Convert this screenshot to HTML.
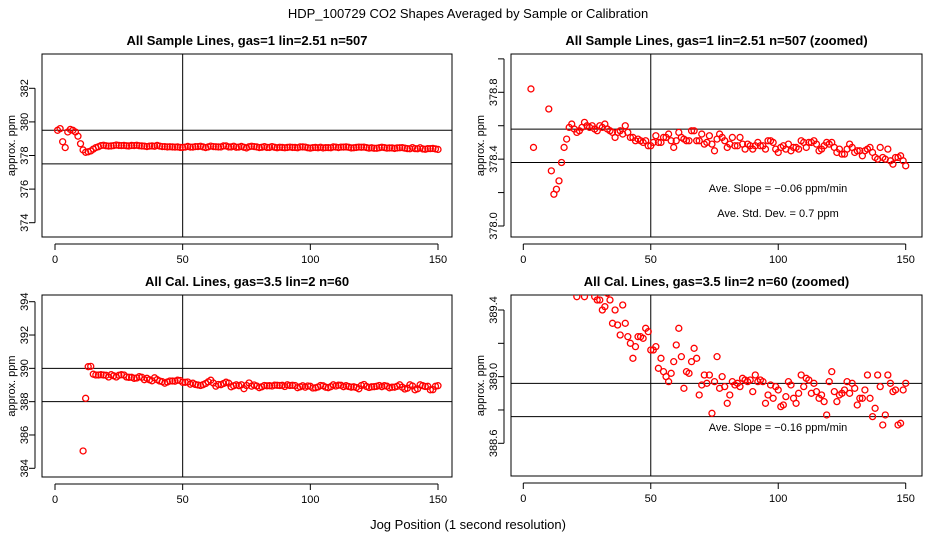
<!DOCTYPE html>
<html><head><meta charset="utf-8"><style>
html,body{margin:0;background:#fff;overflow:hidden;width:936px;height:540px;}
svg{display:block;font-family:"Liberation Sans",sans-serif;}
</style></head><body>
<svg id="chart" width="936" height="540" viewBox="0 0 936 540" xmlns="http://www.w3.org/2000/svg">
<rect width="936" height="540" fill="#fff"/>
<text x="468" y="18" font-size="13" text-anchor="middle">HDP_100729  CO2 Shapes Averaged by Sample or Calibration</text>
<text x="468" y="529" font-size="13" text-anchor="middle">Jog Position (1 second resolution)</text>
</svg>
<script>
const sampleX = [];
for (let i = 1; i <= 150; i++) sampleX.push(i);
const sampleValues = [379.5,379.6,378.82,378.47,379.4,379.55,379.5,379.4,379.15,378.70,378.33,378.19,378.22,378.27,378.38,378.47,378.52,378.59,378.61,378.58,378.56,378.57,378.59,378.62,378.60,378.59,378.60,378.58,378.57,378.60,378.59,378.61,378.58,378.57,378.56,378.53,378.56,378.57,378.55,378.60,378.56,378.53,378.53,378.51,378.52,378.51,378.50,378.51,378.48,378.48,378.50,378.54,378.50,378.50,378.53,378.53,378.55,378.51,378.47,378.51,378.56,378.53,378.52,378.51,378.51,378.57,378.57,378.51,378.51,378.55,378.49,378.50,378.54,378.49,378.45,378.52,378.55,378.53,378.51,378.47,378.49,378.53,378.48,378.48,378.53,378.49,378.46,378.49,378.48,378.46,378.48,378.50,378.48,378.48,378.46,378.51,378.51,378.50,378.46,378.44,378.47,378.48,378.46,378.49,378.45,378.47,378.47,378.46,378.51,378.50,378.47,378.50,378.50,378.51,378.49,378.45,378.46,378.48,378.50,378.49,378.50,378.47,378.44,378.46,378.43,378.43,378.46,378.49,378.47,378.44,378.45,378.45,378.42,378.45,378.46,378.47,378.44,378.41,378.40,378.47,378.41,378.40,378.46,378.39,378.37,378.41,378.41,378.42,378.39,378.36];
const calX = [];
for (let i = 11; i <= 150; i++) calX.push(i);
const calValues = [385.04,388.2,390.1,390.12,389.65,389.60,389.60,389.62,389.60,389.58,389.48,389.62,389.55,389.48,389.58,389.62,389.60,389.48,389.46,389.46,389.40,389.42,389.50,389.46,389.32,389.40,389.31,389.25,389.43,389.32,389.24,389.20,389.11,389.18,389.24,389.24,389.23,389.29,389.27,389.16,389.16,389.18,389.05,389.11,389.03,389.00,388.97,389.02,389.09,389.19,389.29,389.12,388.93,389.03,389.02,389.09,389.17,389.11,388.89,388.95,389.01,388.96,389.01,388.78,388.97,389.12,388.93,389.00,388.94,388.84,388.89,388.97,388.95,388.96,388.94,388.99,388.98,388.97,388.98,388.91,389.01,388.97,388.98,388.97,388.84,388.89,388.95,388.87,388.94,388.92,388.82,388.83,388.88,388.97,388.95,388.87,388.84,388.90,389.01,388.94,388.99,388.98,388.90,388.96,388.91,388.87,388.89,388.85,388.77,388.97,389.03,388.91,388.85,388.89,388.90,388.92,388.97,388.90,388.96,388.93,388.83,388.87,388.87,388.92,389.01,388.87,388.76,388.81,389.01,388.94,388.71,388.77,389.01,388.96,388.91,388.92,388.71,388.72,388.92,388.96];
const xTicks = [0,50,100,150];
const tlYTicks = [374,376,378,380,382];
const trYTicks = [378.0,378.2,378.4,378.6,378.8,379.0];
const trYLabels = [378.0,378.4,378.8];
const blYTicks = [384,386,388,390,392,394];
const brYTicks = [388.6,388.8,389.0,389.2,389.4];
const brYLabels = [388.6,389.0,389.4];

const NS = 'http://www.w3.org/2000/svg';
const svg = document.getElementById('chart');
function mk(tag, attrs, parent) {
  const e = document.createElementNS(NS, tag);
  for (const k in attrs) e.setAttribute(k, attrs[k]);
  (parent || svg).appendChild(e);
  return e;
}
let clipId = 0;
function panel(p) {
  const g = mk('g', {});
  
  
  const sx = v => p.x0 + (v - 0) * (p.x150 - p.x0) / 150;
  const sy = v => p.yA + (v - p.vA) * (p.yB - p.yA) / (p.vB - p.vA);
  const t = mk('text', {x: (p.bx0 + p.bx1) / 2, y: p.by0 - 9, 'font-size': 13, 'font-weight': 'bold', 'text-anchor': 'middle'}, g);
  t.textContent = p.title;
  
  
  const box = mk('rect', {x: p.bx0, y: p.by0, width: p.bx1 - p.bx0, height: p.by1 - p.by0, fill: 'none', stroke: '#000', 'stroke-width': 1}, g);
  
  
  mk('line', {x1: sx(xTicks[0]), x2: sx(xTicks[xTicks.length - 1]), y1: p.by1 + 7, y2: p.by1 + 7, stroke: '#000'}, g);
  xTicks.forEach(v => {
    mk('line', {x1: sx(v), x2: sx(v), y1: p.by1 + 7, y2: p.by1 + 13, stroke: '#000'}, g);
    const l = mk('text', {x: sx(v), y: p.by1 + 26, 'font-size': 11, 'text-anchor': 'middle'}, g);
    l.textContent = v;
    
    
  });
  const ax = p.bx0 - 7;
  mk('line', {x1: ax, x2: ax, y1: sy(p.yTicks[0]), y2: sy(p.yTicks[p.yTicks.length - 1]), stroke: '#000'}, g);
  p.yTicks.forEach(v => {
    mk('line', {x1: ax, x2: ax - 6, y1: sy(v), y2: sy(v), stroke: '#000'}, g);
  });
  p.yLabels.forEach(v => {
    const y = sy(v), x = ax - 7;
    const l = mk('text', {x: x, y: y, 'font-size': 11, 'text-anchor': 'middle', transform: 'rotate(-90 ' + x + ' ' + y + ')'}, g);
    l.textContent = p.fmt(v);
    
    
  });
  const yt = mk('text', {x: p.titleX, y: (p.by0 + p.by1) / 2, 'font-size': 11, 'text-anchor': 'middle', transform: 'rotate(-90 ' + p.titleX + ' ' + ((p.by0 + p.by1) / 2) + ')'}, g);
  yt.textContent = 'approx. ppm';
  
  
  const id = 'c' + (clipId++);
  const cp = mk('clipPath', {id: id}, g);
  mk('rect', {x: p.bx0, y: p.by0, width: p.bx1 - p.bx0, height: p.by1 - p.by0}, cp);
  const cg = mk('g', {'clip-path': 'url(#' + id + ')'}, g);
  mk('line', {x1: sx(50), x2: sx(50), y1: p.by0, y2: p.by1, stroke: '#000'}, cg);
  p.hlines.forEach(v => {
    const h = mk('line', {x1: p.bx0, x2: p.bx1, y1: sy(v), y2: sy(v), stroke: '#000'}, cg);
    
    
  });
  p.xs.forEach((xv, i) => {
    const c = mk('circle', {cx: sx(xv), cy: sy(p.vals[i]), r: 3, fill: 'none', stroke: '#f00', 'stroke-width': 1.3}, cg);
    
    
  });
  (p.notes || []).forEach(n => {
    const l = mk('text', {x: n[0], y: n[1], 'font-size': 11, 'text-anchor': 'middle'}, g);
    l.textContent = n[2];
    
    
  });
}
panel({name: 'sample-panel', title: 'All Sample Lines, gas=1 lin=2.51 n=507', bx0: 42, bx1: 452, by0: 54, by1: 237, x0: 55, x150: 438,
  vA: 382, yA: 88.3, vB: 374, yB: 222.7, yTicks: tlYTicks, yLabels: tlYTicks, fmt: v => v, titleX: 15,
  hlines: [379.5, 377.5], xs: sampleX, vals: sampleValues});
panel({name: 'sample-zoomed-panel', title: 'All Sample Lines, gas=1 lin=2.51 n=507 (zoomed)', bx0: 511, bx1: 922, by0: 54, by1: 237, x0: 523.3, x150: 905.7,
  vA: 378.8, yA: 92.3, vB: 378.0, yB: 226, yTicks: trYTicks, yLabels: trYLabels, fmt: v => v.toFixed(1), titleX: 484,
  hlines: [378.58, 378.38], xs: sampleX, vals: sampleValues,
  notes: [[778, 192, 'Ave. Slope =  \u22120.06  ppm/min'], [778, 217, 'Ave. Std. Dev. =  0.7  ppm']]});
panel({name: 'cal-panel', title: 'All Cal. Lines, gas=3.5 lin=2 n=60', bx0: 42, bx1: 452, by0: 295, by1: 477, x0: 55, x150: 438,
  vA: 394, yA: 301.7, vB: 384, yB: 468.3, yTicks: blYTicks, yLabels: blYTicks, fmt: v => v, titleX: 15,
  hlines: [390, 388], xs: calX, vals: calValues});
panel({name: 'cal-zoomed-panel', title: 'All Cal. Lines, gas=3.5 lin=2 n=60 (zoomed)', bx0: 511, bx1: 922, by0: 295, by1: 476, x0: 523.3, x150: 905.7,
  vA: 389.4, yA: 310, vB: 388.6, yB: 443.3, yTicks: brYTicks, yLabels: brYLabels, fmt: v => v.toFixed(1), titleX: 484,
  hlines: [388.96, 388.76], xs: calX, vals: calValues,
  notes: [[778, 431, 'Ave. Slope =  \u22120.16  ppm/min']]});
</script>
</body></html>
